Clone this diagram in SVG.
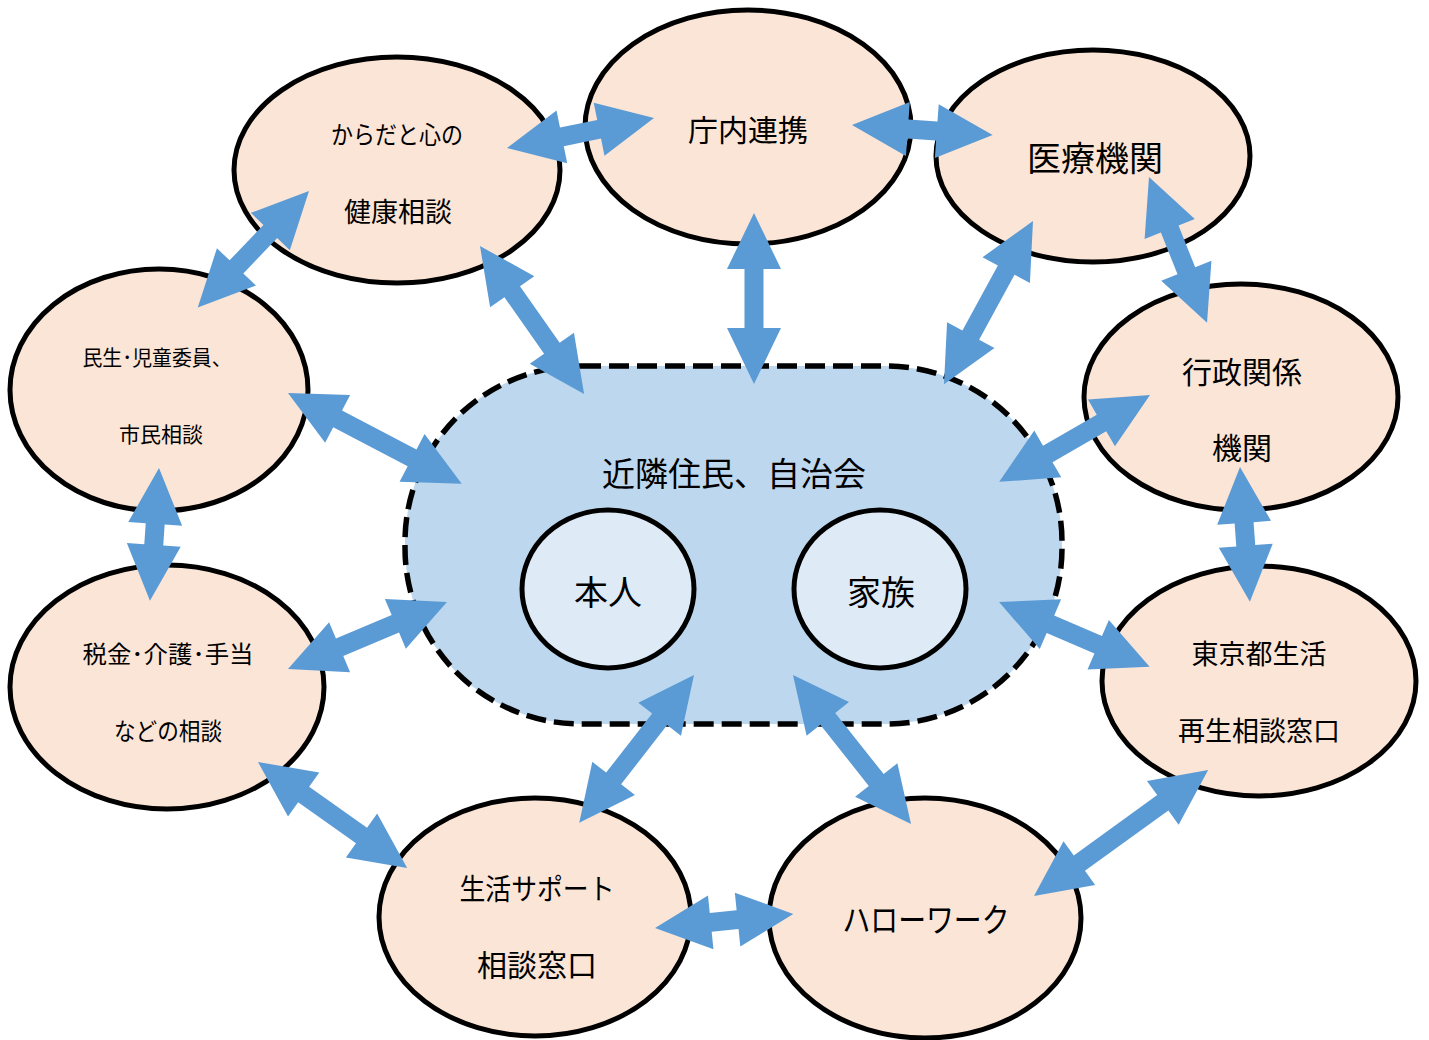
<svg xmlns="http://www.w3.org/2000/svg" width="1429" height="1040" viewBox="0 0 1429 1040">
<style>
.node{fill:#FBE5D6;stroke:#000;stroke-width:5}
.inner{fill:#DEEBF7;stroke:#000;stroke-width:5}
.hub{fill:#BDD7EE;stroke:#000;stroke-width:5.5;stroke-dasharray:20 8}
.arr{fill:#5B9BD5;stroke:none}
text{font-family:"Noto Sans CJK JP","Noto Sans",sans-serif;fill:#000;text-anchor:middle;dominant-baseline:central}
</style>
<rect width="1429" height="1040" fill="#fff"/>
<g id="hub">
<rect class="hub" x="405" y="366" width="657" height="358" rx="176" ry="176"/>
<text x="734" y="472" font-size="33">近隣住民、自治会</text>
</g>
<g id="honnin"><ellipse class="inner" cx="608" cy="589" rx="86" ry="79"/><text x="608" y="590" font-size="34">本人</text></g>
<g id="kazoku"><ellipse class="inner" cx="880" cy="589" rx="86" ry="79"/><text x="881" y="590" font-size="34">家族</text></g>
<g id="karada"><ellipse class="node" cx="397" cy="170" rx="163" ry="113"/><text x="397" y="133" font-size="25" textLength="132" lengthAdjust="spacingAndGlyphs">からだと心の</text><text x="398" y="210" font-size="27">健康相談</text></g>
<g id="chonai"><ellipse class="node" cx="748" cy="127" rx="163" ry="117"/><text x="748" y="128" font-size="30">庁内連携</text></g>
<g id="iryo"><ellipse class="node" cx="1093" cy="156" rx="157" ry="106"/><text x="1095" y="156" font-size="34">医療機関</text></g>
<g id="minsei"><ellipse class="node" cx="159" cy="390" rx="149" ry="121"/><text x="157" y="356" font-size="21" textLength="149" lengthAdjust="spacingAndGlyphs">民生･児童委員、</text><text x="161" y="433" font-size="21">市民相談</text></g>
<g id="gyosei"><ellipse class="node" cx="1241" cy="397" rx="157" ry="113"/><text x="1242" y="370" font-size="30">行政関係</text><text x="1242" y="446" font-size="30">機関</text></g>
<g id="zeikin"><ellipse class="node" cx="167" cy="687" rx="157" ry="122"/><text x="168" y="652" font-size="24" textLength="171" lengthAdjust="spacingAndGlyphs">税金･介護･手当</text><text x="168" y="729" font-size="24" textLength="108" lengthAdjust="spacingAndGlyphs">などの相談</text></g>
<g id="tokyo"><ellipse class="node" cx="1259" cy="681" rx="157" ry="115"/><text x="1259" y="652" font-size="27">東京都生活</text><text x="1259" y="729" font-size="27">再生相談窓口</text></g>
<g id="seikatsu"><ellipse class="node" cx="535" cy="917" rx="156" ry="119"/><text x="537" y="887" font-size="29" textLength="155" lengthAdjust="spacingAndGlyphs">生活サポート</text><text x="537" y="963" font-size="30">相談窓口</text></g>
<g id="hellowork"><ellipse class="node" cx="925" cy="918" rx="156" ry="120"/><text x="926" y="918" font-size="33" textLength="167" lengthAdjust="spacingAndGlyphs">ハローワーク</text></g>
<g id="connectors" class="arr">
<path transform="translate(507 148) rotate(-11.5)" d="M0,0 L56,-27 L56,-9.5 L94,-9.5 L94,-27 L150,0 L94,27 L94,9.5 L56,9.5 L56,27 Z"/>
<path transform="translate(852 125) rotate(4.1)" d="M0,0 L56,-27 L56,-9.5 L85,-9.5 L85,-27 L141,0 L85,27 L85,9.5 L56,9.5 L56,27 Z"/>
<path transform="translate(309 191) rotate(133.7)" d="M0,0 L56,-27 L56,-9.5 L105,-9.5 L105,-27 L161,0 L105,27 L105,9.5 L56,9.5 L56,27 Z"/>
<path transform="translate(480 246) rotate(54.9)" d="M0,0 L56,-27 L56,-9.5 L125,-9.5 L125,-27 L181,0 L125,27 L125,9.5 L56,9.5 L56,27 Z"/>
<path transform="translate(288 393) rotate(27.6)" d="M0,0 L56,-27 L56,-9.5 L140,-9.5 L140,-27 L196,0 L140,27 L140,9.5 L56,9.5 L56,27 Z"/>
<path transform="translate(754 213) rotate(90)" d="M0,0 L56,-27 L56,-9.5 L115,-9.5 L115,-27 L171,0 L115,27 L115,9.5 L56,9.5 L56,27 Z"/>
<path transform="translate(1033 221) rotate(118.6)" d="M0,0 L56,-27 L56,-9.5 L130,-9.5 L130,-27 L186,0 L130,27 L130,9.5 L56,9.5 L56,27 Z"/>
<path transform="translate(1149 177) rotate(68.3)" d="M0,0 L56,-27 L56,-9.5 L101,-9.5 L101,-27 L157,0 L101,27 L101,9.5 L56,9.5 L56,27 Z"/>
<path transform="translate(159 468) rotate(93.9)" d="M0,0 L56,-27 L56,-9.5 L77,-9.5 L77,-27 L133,0 L77,27 L77,9.5 L56,9.5 L56,27 Z"/>
<path transform="translate(288 669) rotate(-22.85)" d="M0,0 L56,-27 L56,-9.5 L116.5,-9.5 L116.5,-27 L172.5,0 L116.5,27 L116.5,9.5 L56,9.5 L56,27 Z"/>
<path transform="translate(1150 395) rotate(150.05)" d="M0,0 L56,-27 L56,-9.5 L118,-9.5 L118,-27 L174,0 L118,27 L118,9.5 L56,9.5 L56,27 Z"/>
<path transform="translate(1240 467) rotate(85.8)" d="M0,0 L56,-27 L56,-9.5 L79,-9.5 L79,-27 L135,0 L79,27 L79,9.5 L56,9.5 L56,27 Z"/>
<path transform="translate(999 602) rotate(23.3)" d="M0,0 L56,-27 L56,-9.5 L108,-9.5 L108,-27 L164,0 L108,27 L108,9.5 L56,9.5 L56,27 Z"/>
<path transform="translate(258 762) rotate(35.4)" d="M0,0 L56,-27 L56,-9.5 L127,-9.5 L127,-27 L183,0 L127,27 L127,9.5 L56,9.5 L56,27 Z"/>
<path transform="translate(694 675) rotate(127.85)" d="M0,0 L56,-27 L56,-9.5 L131,-9.5 L131,-27 L187,0 L131,27 L131,9.5 L56,9.5 L56,27 Z"/>
<path transform="translate(793 675) rotate(51.6)" d="M0,0 L56,-27 L56,-9.5 L134,-9.5 L134,-27 L190,0 L134,27 L134,9.5 L56,9.5 L56,27 Z"/>
<path transform="translate(655 928) rotate(-5.8)" d="M0,0 L56,-27 L56,-9.5 L83,-9.5 L83,-27 L139,0 L83,27 L83,9.5 L56,9.5 L56,27 Z"/>
<path transform="translate(1034 896) rotate(-35.9)" d="M0,0 L56,-27 L56,-9.5 L159,-9.5 L159,-27 L215,0 L159,27 L159,9.5 L56,9.5 L56,27 Z"/>
</g>
</svg>
